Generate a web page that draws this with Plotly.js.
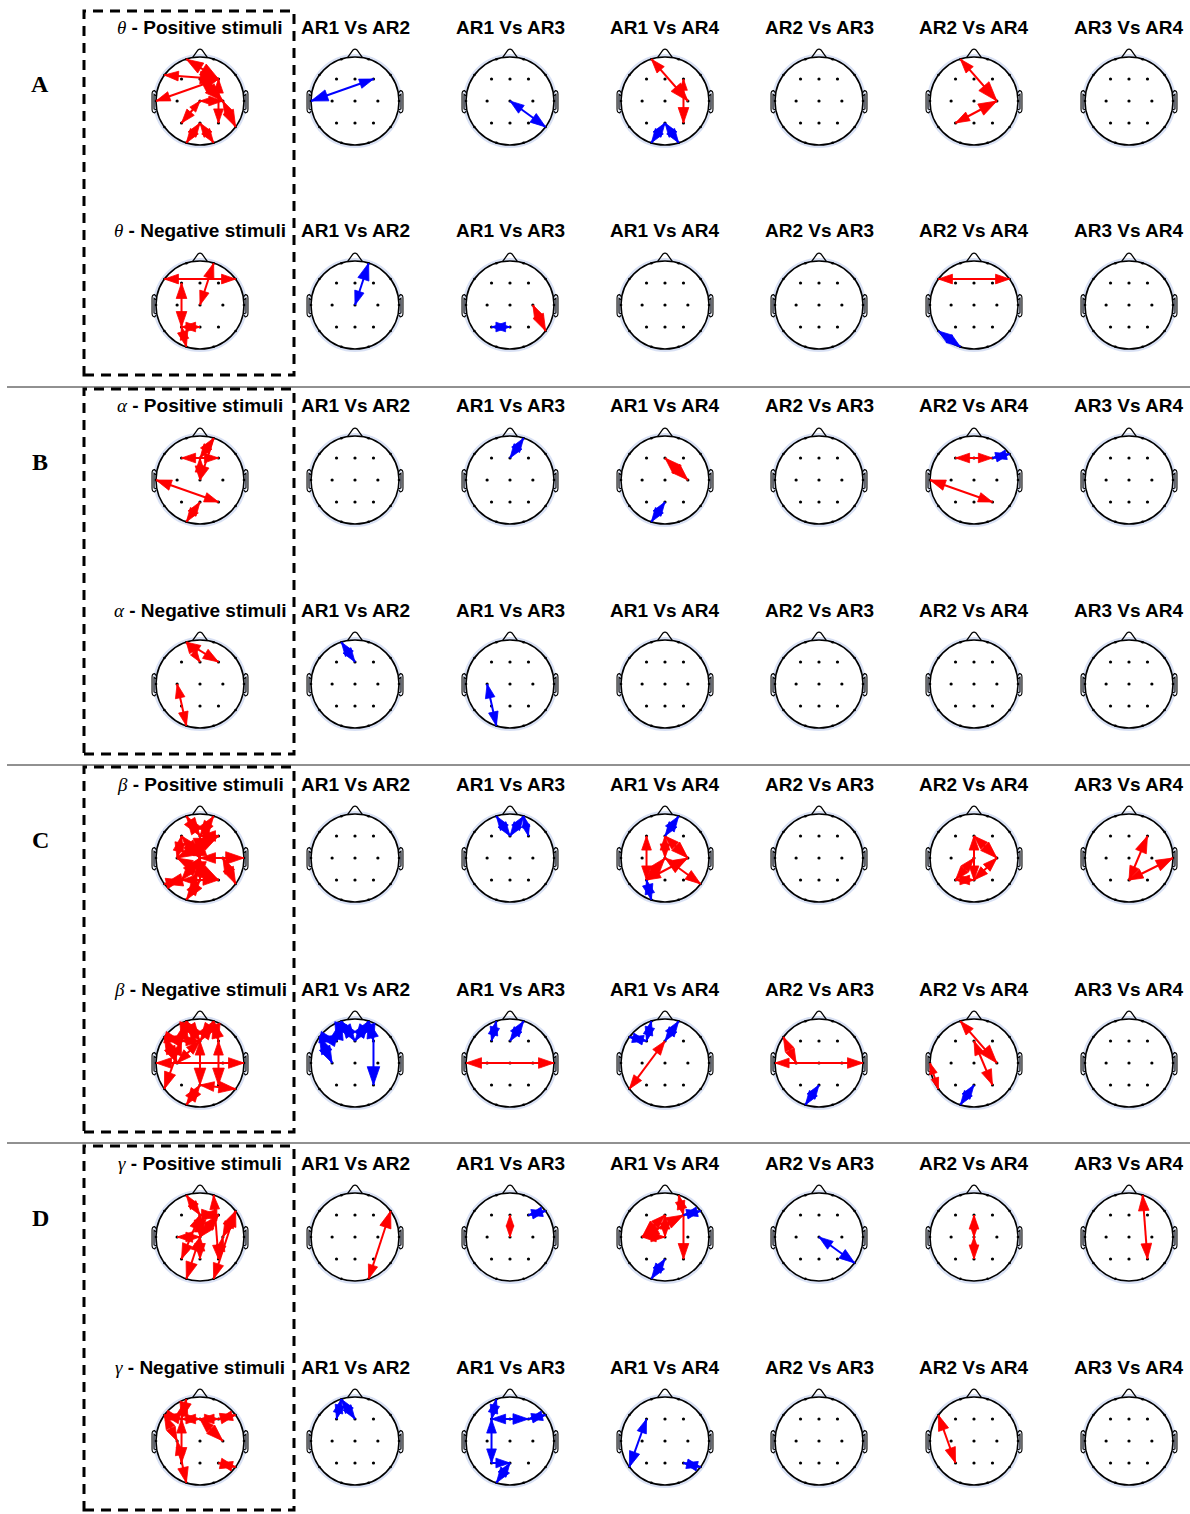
<!DOCTYPE html>
<html><head><meta charset="utf-8">
<script src="https://cdn.plot.ly/plotly-3.0.1.min.js"></script>
<style>html,body{margin:0;padding:0;background:#fff}</style>
</head><body><div id="chart" style="width:1190px;height:1514px"></div>
<script>
// ---------- DATA ----------
const elecNames = ["Fp1","Fp2","F7","F3","Fz","F4","F8","T3","C3","Cz","C4","T4","T5","P3","Pz","P4","T6","O1","O2"];
const elecX = [-0.31,0.31,-0.81,-0.42,0,0.42,0.81,-1,-0.52,0,0.52,1,-0.81,-0.42,0,0.42,0.81,-0.31,0.31];
const elecY = [0.95,0.95,0.59,0.5,0.5,0.5,0.59,0,0,0,0,0,-0.59,-0.5,-0.5,-0.5,-0.59,-0.95,-0.95];
const innerElecs = ["F3","Fz","F4","C3","Cz","C4","P3","Pz","P4"];
const comparisons = ["AR1 Vs AR2","AR1 Vs AR3","AR1 Vs AR4","AR2 Vs AR3","AR2 Vs AR4","AR3 Vs AR4"];
const bandSymbols = ["θ","θ","α","α","β","β","γ","γ"];
const conditions = ["Positive stimuli","Negative stimuli","Positive stimuli","Negative stimuli","Positive stimuli","Negative stimuli","Positive stimuli","Negative stimuli"];
const panelLetters = ["A","B","C","D"];

// connection: [from, to, headSizeAtFrom, headSizeAtTo, colour r/b]
const thetaPos = [
  [["F4","Fp1",1.3,1.2,"r"],["F4","F7",1.3,1,"r"],["F4","T3",1,1,"r"],["Cz","P3",0.8,1,"r"],["F4","P4",1,1,"r"],["C4","T6",1,1.2,"r"],["Pz","O1",1,1,"r"],["Pz","O2",1,1,"r"],["Cz","C4",0.8,1,"r"],["Fz","C4",1,1.3,"r"]],
  [["T3","F4",1.2,1,"b"]],
  [["Cz","T6",1,1.1,"b"]],
  [["Fp1","C4",1,1.3,"r"],["F4","P4",0.8,1.1,"r"],["Pz","O1",1,1,"b"],["Pz","O2",1,1,"b"]],
  [],
  [["Fp1","C4",1,1.4,"r"],["C4","P3",1.3,1,"r"]],
  []
];
const thetaNeg = [
  [["F7","F8",1,1,"r"],["Fp2","Cz",1.1,1,"r"],["F3","P3",1.1,1.1,"r"],["P3","Pz",1,1,"r"],["P3","O1",0.9,1.1,"r"]],
  [["Cz","Fp2",1,1.2,"b"]],
  [["P3","Pz",1,1,"b"],["C4","T6",1,1.2,"r"]],
  [],
  [],
  [["F7","F8",1,1,"r"],["T5","O1",1,1,"b"]],
  []
];
const alphaPos = [
  [["Fz","Fp2",1,1.1,"r"],["F3","F4",1,1,"r"],["Fz","Cz",1,1,"r"],["Fp2","Cz",0,1,"r"],["T3","P4",1.1,1,"r"],["Pz","O1",1,1,"r"]],
  [],
  [["Fz","Fp2",1,1,"b"]],
  [["Fz","C4",1.2,1.2,"r"],["Pz","O1",1,1,"b"]],
  [],
  [["F3","F4",1,1,"r"],["F4","F8",1,1,"b"],["T3","P4",1.1,1,"r"]],
  []
];
const alphaNeg = [
  [["Fp1","F4",1,1.1,"r"],["Fp1","Fz",0.8,0.8,"r"],["C3","O1",1,1,"r"]],
  [["Fp1","Fz",1,1,"b"]],
  [["C3","O1",1,1,"b"]],
  [],[],[],[]
];
const betaPos = [
  [["Fp1","Fz",1.3,1.3,"r"],["Fp2","Fz",1.3,1.1,"r"],["Fz","F4",1.1,1.1,"r"],["F3","Cz",1.3,1.3,"r"],["C3","F3",1.1,1.1,"r"],["Fz","Cz",1.4,1.4,"r"],["Cz","T4",1.1,1.3,"r"],["C4","T6",1.1,1.2,"r"],["Cz","P3",1.3,1.1,"r"],["Cz","Pz",1.3,1.3,"r"],["P3","T5",1.1,1.3,"r"],["P3","P4",1.1,1.1,"r"],["Pz","O1",1.1,1.3,"r"],["F4","C3",1.3,1.3,"r"],["C3","P4",1.1,1.3,"r"]],
  [],
  [["Fp1","Fz",1,1,"b"],["Fz","Fp2",1,1,"b"],["Fp2","F4",0.8,0.8,"b"]],
  [["Fz","Fp2",1,1.1,"b"],["P3","O1",1,1.1,"b"],["F3","P3",1,1,"r"],["Fz","Cz",1,1,"r"],["Cz","T6",1.2,1.1,"r"],["Cz","P3",1.2,1,"r"],["Fz","C4",1,1.2,"r"],["C4","P3",1,1,"r"]],
  [],
  [["Fz","C4",1,1.2,"r"],["Fz","Pz",1,1,"r"],["Cz","P3",1,1,"r"],["C4","Pz",1,1,"r"],["P3","Pz",1,1,"r"]],
  [["Pz","F4",1,1.2,"r"],["Pz","T4",1,1.2,"r"]]
];
const betaNeg = [
  [["Fp1","F3",1.3,1.3,"r"],["F7","F3",1.2,1.2,"r"],["Fp1","Fz",1.3,1.3,"r"],["Fp2","Fz",1.3,1.3,"r"],["Fp2","F4",1.2,1.2,"r"],["F3","Fz",1,1,"r"],["F7","C3",1.2,1.2,"r"],["T3","T4",1.1,1.1,"r"],["F3","T5",1,1.2,"r"],["Fz","Pz",1,1.2,"r"],["F4","P4",1,1.2,"r"],["Pz","T6",1,1.2,"r"],["Pz","O1",1.2,1.2,"r"],["Fz","C3",1,1,"r"]],
  [["F7","F3",1.2,1.2,"b"],["Fp1","F3",1.3,1.3,"b"],["Fp1","Fz",1.2,1.2,"b"],["Fz","Fp2",1.2,1.2,"b"],["Fp2","F4",1.2,1.2,"b"],["F7","C3",1.2,1.2,"b"],["F4","P4",0,1.3,"b"]],
  [["Fp1","F3",1,1,"b"],["Fz","Fp2",1,1.1,"b"],["T3","T4",1.1,1.1,"r"]],
  [["F7","F3",1,1,"b"],["Fp1","F3",1,1,"b"],["Fz","Fp2",1,1.1,"b"],["Fz","T5",1,1,"r"]],
  [["T3","T4",1,1.1,"r"],["F7","C3",1,1,"r"],["Pz","O1",1,1,"b"]],
  [["Fp1","C4",1,1.3,"r"],["Fz","P4",1,1.1,"r"],["T3","T5",0.8,0.8,"r"],["Pz","O1",1,1,"b"]],
  []
];
const gammaPos = [
  [["Fp1","Fz",1,1,"r"],["Fz","F4",1.2,1.2,"r"],["F8","C4",1.2,1.1,"r"],["F4","Cz",1.1,1.1,"r"],["Fz","Cz",1.2,1.2,"r"],["Cz","C3",1,1.1,"r"],["Fz","P3",1,1.1,"r"],["Cz","O1",1,1.2,"r"],["Cz","Pz",1,1.1,"r"],["F8","O2",1.1,1.1,"r"],["C4","P4",1,1,"r"],["Fp2","P4",1,1,"r"]],
  [["O2","F8",1,1.2,"r"]],
  [["Fz","Cz",0.8,0.8,"r"],["F4","F8",1,1,"b"]],
  [["C3","F4",1.2,1.2,"r"],["C3","Fz",1.2,1,"r"],["C3","Cz",1,1,"r"],["Fp2","F4",1,1,"r"],["F4","P4",0,1.1,"r"],["Fz","Cz",1,1,"r"],["F4","F8",1,1,"b"],["Pz","O1",1,1.1,"b"]],
  [["Cz","T6",1,1.1,"b"]],
  [["Fz","Pz",1,1,"r"],["Cz","Pz",0.8,0,"r"],["Fz","Cz",0,0.8,"r"]],
  [["Fp2","P4",1.1,1.1,"r"]]
];
const gammaNeg = [
  [["Fp1","F3",1.2,1.2,"r"],["F7","F3",1.1,1.1,"r"],["F3","Fz",1,1,"r"],["Fz","F4",1,1,"r"],["F4","F8",1,1.1,"r"],["Fz","C4",1,1.2,"r"],["F7","C3",1,1,"r"],["F3","P3",1,1.1,"r"],["C3","O1",1,1.1,"r"],["P4","T6",1,1.1,"r"]],
  [["Fp1","F3",1,1,"b"],["Fp1","Fz",1,1,"b"]],
  [["F3","F4",1,1.1,"b"],["Fp1","F3",1,1,"b"],["F4","F8",1,1,"b"],["F3","P3",1,1,"b"],["P3","Pz",0,1,"b"],["Pz","O1",1,1.1,"b"]],
  [["F3","T5",1,1.1,"b"],["P4","T6",1,1,"b"]],
  [],
  [["F7","P3",1.1,1.1,"r"]],
  []
];
const rows = [thetaPos, thetaNeg, alphaPos, alphaNeg, betaPos, betaNeg, gammaPos, gammaNeg];

// ---------- LAYOUT CONSTANTS ----------
const W = 1190, H = 1514;
const colX = [200,355,510,665,819,974,1129];
const rowY = [101,305,480,684,858,1063,1237,1441];
const HALF = 55;            // px half-size of each head subplot (range ±1.25 -> radius 44px)
const RNG = 1.25;
const HEAD_L = 0.32, HEAD_W = 0.11;
const COLORS = {r:"#ff0000", b:"#0000ff"};
const titleFont = {family:"Liberation Sans, Arial, sans-serif", size:19, color:"#000", weight:700};

const pos = {};
elecNames.forEach((n,i)=>{pos[n]=[elecX[i],elecY[i]];});

const traces = [], shapes = [], annotations = [];
const layout = {
  width:W, height:H, margin:{l:0,r:0,t:0,b:0}, showlegend:false,
  paper_bgcolor:"#fff", plot_bgcolor:"rgba(0,0,0,0)", hovermode:false
};

function addHead(P, Q, s, xs, ys){
  const dx=P[0]-Q[0], dy=P[1]-Q[1], len=Math.hypot(dx,dy);
  const ux=dx/len, uy=dy/len, L=HEAD_L*s, Wd=HEAD_W*s;
  const bx=P[0]-ux*L, by=P[1]-uy*L;
  xs.push(P[0], bx-uy*Wd, bx+uy*Wd, P[0], null);
  ys.push(P[1], by+ux*Wd, by-ux*Wd, P[1], null);
}

let n = 0;
rows.forEach((row, ri)=>{
  row.forEach((conns, ci)=>{
    n++;
    const xa = n===1?"x":"x"+n, ya = n===1?"y":"y"+n;
    const xk = n===1?"xaxis":"xaxis"+n, yk = n===1?"yaxis":"yaxis"+n;
    layout[xk] = {domain:[(colX[ci]-HALF)/W,(colX[ci]+HALF)/W], range:[-RNG,RNG], visible:false, fixedrange:true, anchor:ya};
    layout[yk] = {domain:[1-(rowY[ri]+HALF)/H, 1-(rowY[ri]-HALF)/H], range:[-RNG,RNG], visible:false, fixedrange:true, anchor:xa};
    const base = {xref:xa, yref:ya, layer:"below"};
    shapes.push(Object.assign({type:"circle", x0:-1.035, x1:1.035, y0:-1.035, y1:1.035, line:{color:"rgba(185,200,235,0.55)", width:3}}, base));
    shapes.push(Object.assign({type:"circle", x0:-1, x1:1, y0:-1, y1:1, line:{color:"#000", width:1.5}}, base));
    shapes.push(Object.assign({type:"path", path:"M -0.17 0.985 L -0.045 1.16 Q 0 1.2 0.045 1.16 L 0.17 0.985", line:{color:"#000", width:1.3}}, base));
    shapes.push(Object.assign({type:"path", path:"M -0.995 0.19 L -1.03 0.235 Q -1.09 0.235 -1.09 0.16 L -1.09 -0.19 Q -1.09 -0.27 -1.03 -0.27 L -0.995 -0.23 M -1.0 0.12 L -1.045 0.15 L -1.045 -0.18 L -1.0 -0.2", line:{color:"#000", width:1.1}}, base));
    shapes.push(Object.assign({type:"path", path:"M 0.995 0.19 L 1.03 0.235 Q 1.09 0.235 1.09 0.16 L 1.09 -0.19 Q 1.09 -0.27 1.03 -0.27 L 0.995 -0.23 M 1.0 0.12 L 1.045 0.15 L 1.045 -0.18 L 1.0 -0.2", line:{color:"#000", width:1.1}}, base));

    // electrodes
    traces.push({type:"scatter", mode:"markers", xaxis:xa, yaxis:ya, hoverinfo:"skip",
      x: innerElecs.map(e=>pos[e][0]), y: innerElecs.map(e=>pos[e][1]),
      marker:{size:3.2, color:"#000"}});
    const outer = elecNames.filter(e=>!innerElecs.includes(e));
    traces.push({type:"scatter", mode:"markers", xaxis:xa, yaxis:ya, hoverinfo:"skip",
      x: outer.map(e=>pos[e][0]), y: outer.map(e=>pos[e][1]),
      marker:{size:2.6, color:"#000"}});

    // arrows
    ["r","b"].forEach(c=>{
      const sel = conns.filter(k=>k[4]===c);
      if(!sel.length) return;
      const lx=[], ly=[], hx=[], hy=[];
      sel.forEach(([a,b,sa,sb])=>{
        const A=pos[a], B=pos[b];
        lx.push(A[0],B[0],null); ly.push(A[1],B[1],null);
        if(sb>0) addHead(B,A,sb,hx,hy);
        if(sa>0) addHead(A,B,sa,hx,hy);
      });
      traces.push({type:"scatter", mode:"lines", xaxis:xa, yaxis:ya, hoverinfo:"skip",
        x:lx, y:ly, line:{color:COLORS[c], width:2}});
      traces.push({type:"scatter", mode:"lines", xaxis:xa, yaxis:ya, hoverinfo:"skip",
        x:hx, y:hy, fill:"toself", fillcolor:COLORS[c], line:{color:COLORS[c], width:0.8}});
    });

    // titles
    const ty = rowY[ri]-74;
    let txt;
    if(ci===0){
      txt = '<span style="font-family:Liberation Serif, serif;font-weight:normal;font-style:italic">'+bandSymbols[ri]+'</span> - '+conditions[ri];
    } else {
      txt = comparisons[ci-1];
    }
    annotations.push({xref:"paper", yref:"paper", x:colX[ci]/W, y:1-ty/H, xanchor:"center", yanchor:"middle",
      text:txt, showarrow:false, font:titleFont});
  });
});

// panel letters
const letterY = [84,462,840,1218];
panelLetters.forEach((L,i)=>{
  annotations.push({xref:"paper", yref:"paper", x:40/W, y:1-letterY[i]/H, xanchor:"center", yanchor:"middle",
    text:L, showarrow:false, font:{family:"Liberation Serif, serif", size:24, color:"#000", weight:700}});
});

// separators
[387,765,1143].forEach(y=>{
  shapes.push({type:"line", xref:"paper", yref:"paper", x0:7/W, x1:1, y0:1-y/H, y1:1-y/H, line:{color:"#222", width:1}});
});
// dashed boxes
const boxes = [[11,375],[389,754],[767,1132],[1146,1510]];
boxes.forEach(([t,b])=>{
  shapes.push({type:"rect", xref:"paper", yref:"paper", x0:84/W, x1:294/W, y0:1-b/H, y1:1-t/H,
    line:{color:"#000", width:3, dash:"10px,7px"}});
});

layout.shapes = shapes;
layout.annotations = annotations;
Plotly.newPlot("chart", traces, layout, {staticPlot:true, displayModeBar:false});
</script></body></html>
